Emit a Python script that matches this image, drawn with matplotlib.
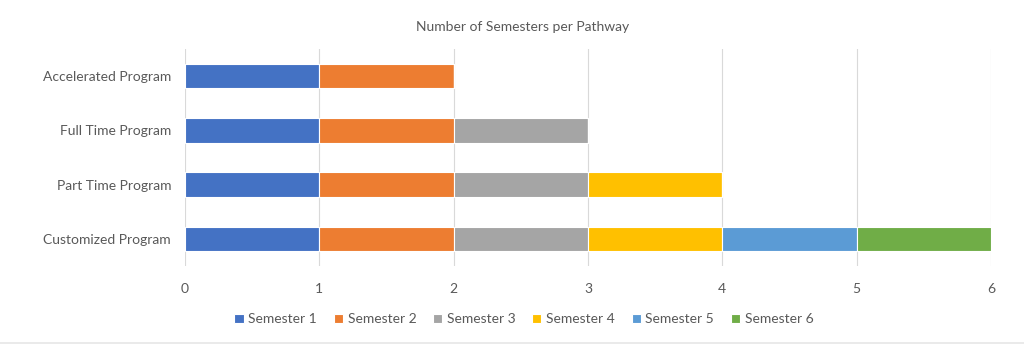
import numpy as np
import matplotlib
matplotlib.use("Agg")
import matplotlib.pyplot as plt
from matplotlib.lines import Line2D

# categories listed bottom to top
programs = ["Customized Program", "Part Time Program", "Full Time Program", "Accelerated Program"]
semester_names = ["Semester 1", "Semester 2", "Semester 3", "Semester 4", "Semester 5", "Semester 6"]
sem1 = [1, 1, 1, 1]
sem2 = [1, 1, 1, 1]
sem3 = [1, 1, 1, 0]
sem4 = [1, 1, 0, 0]
sem5 = [1, 0, 0, 0]
sem6 = [1, 0, 0, 0]
series = [sem1, sem2, sem3, sem4, sem5, sem6]
colors = ["#4472C4", "#ED7D31", "#A5A5A5", "#FFC000", "#5B9BD5", "#70AD47"]

plt.rcParams["font.family"] = ["Lato", "DejaVu Sans"]
text_col = "#595959"

fig = plt.figure(figsize=(10.24, 3.46), dpi=100)
ax = fig.add_axes([185 / 1024, 1 - 266 / 346, (991 - 185) / 1024, (266 - 49) / 346])

y = np.arange(len(programs))
left = np.zeros(len(programs))
for name, vals, c in zip(semester_names, series, colors):
    vals = np.array(vals, dtype=float)
    ax.barh(y, vals, left=left, height=0.45, color=c, edgecolor="white",
            linewidth=0.8, label=name)
    left += vals

ax.set_xlim(0, 6)
ax.set_ylim(-0.5, len(programs) - 0.5)
ax.set_yticks(y)
ax.set_yticklabels(programs)
ax.set_xticks(range(7))
ax.grid(axis="x", color="#d9d9d9", linewidth=0.8)
ax.set_axisbelow(True)
for s in ax.spines.values():
    s.set_visible(False)
ax.tick_params(length=0, labelsize=10, colors=text_col, pad=10)
ax.tick_params(axis="x", pad=12)

fig.text(0.51, 1 - 27 / 346, "Number of Semesters per Pathway", ha="center", va="center",
         fontsize=10, color=text_col)

ax.legend(loc="center", bbox_to_anchor=((524 - 185) / 806, -0.245), ncol=6,
          frameon=False, fontsize=10, handlelength=0.65, handleheight=0.65,
          handletextpad=0.35, columnspacing=1.2, labelcolor=text_col)

fig.add_artist(Line2D([0, 1], [1 - 343 / 346] * 2, color="#e6e6e6", linewidth=1.2))

fig.savefig("out.png", dpi=100, facecolor="white")
